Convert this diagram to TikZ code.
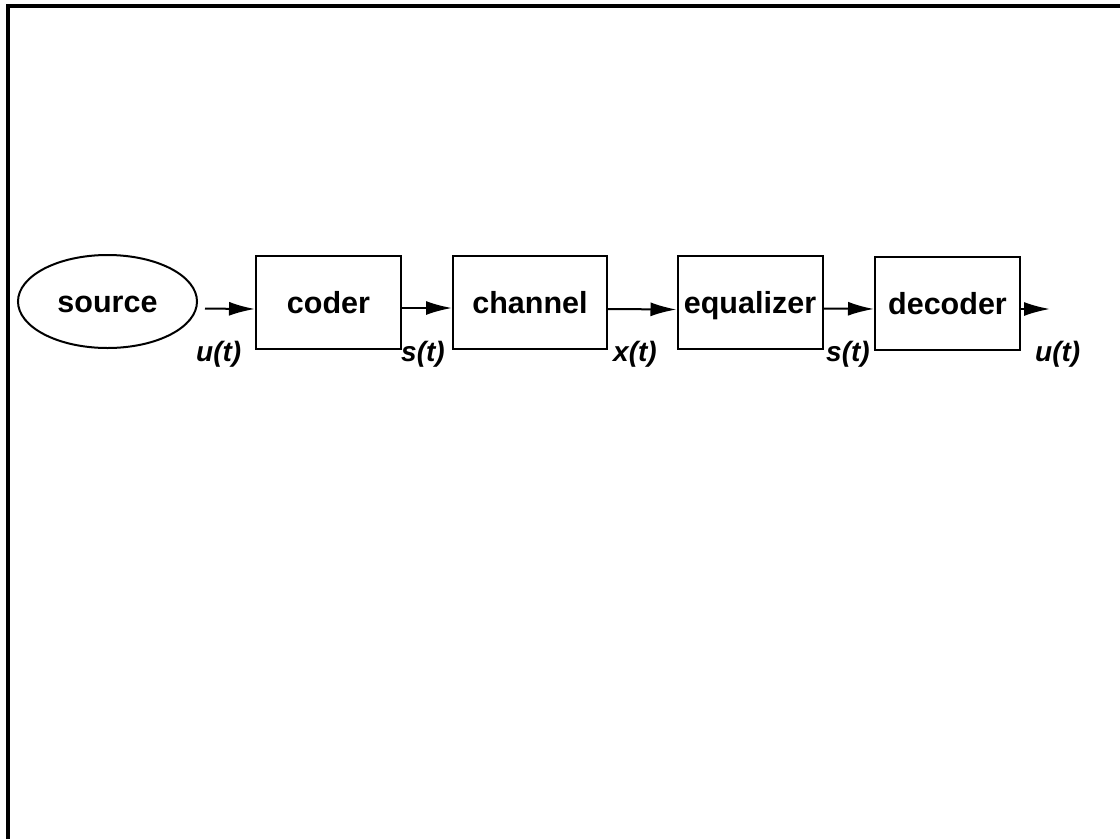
\documentclass[tikz,border=0pt]{standalone}
\usepackage{fontspec}
\setmainfont{Liberation Sans}
\usetikzlibrary{arrows.meta,shapes.geometric}
\begin{document}
\begin{tikzpicture}[x=1pt,y=-1pt,
  blk/.style={draw,line width=2pt,minimum height=93pt,inner sep=0pt,
    font=\fontsize{30.5}{36}\selectfont\bfseries,text height=22pt,text depth=0pt},
  oval/.style={blk,ellipse,minimum width=179pt},
  sig/.style={anchor=base west,inner sep=0pt,font=\fontsize{28}{34}\selectfont\bfseries\itshape},
  flow/.style={line width=2pt,-{Latex[length=26pt,width=14pt]}},
  frame/.style={line width=4pt}]
\useasboundingbox (0,0) rectangle (1120,839);
\draw[frame] (8,839) -- (8,6) -- (1120,6);
\node[oval] (src) at (107.5,301.5) {source};
\node[blk,minimum width=145pt] (cod) at (328.5,302) {coder};
\node[blk,minimum width=154pt] (chn) at (530,302) {channel};
\node[blk,minimum width=145pt] (equ) at (750,302.5) {equalizer};
\node[blk,minimum width=145pt] (dec) at (947.5,303) {decoder};
\coordinate (out) at (1050,309);
\draw[flow,shorten <=7pt] ([yshift=-7pt]src.east) -- ([yshift=-7pt]cod.west);
\draw[flow] ([yshift=-6pt]cod.east) -- ([yshift=-6pt]chn.west);
\draw[flow] ([yshift=-7pt]chn.east) -- ([yshift=-7pt]equ.west);
\draw[flow] ([yshift=-6pt]equ.east) -- ([yshift=-6pt]dec.west);
\draw[flow] (dec.east |- out) -- (out);
\node[sig] (lu1) at (196,361) {u(t)};
\node[sig] (ls1) at (401,361) {s(t)};
\node[sig] (lx) at (613,361) {x(t)};
\node[sig] (ls2) at (826,361) {s(t)};
\node[sig] (lu2) at (1035,361) {u(t)};
\end{tikzpicture}
\end{document}
